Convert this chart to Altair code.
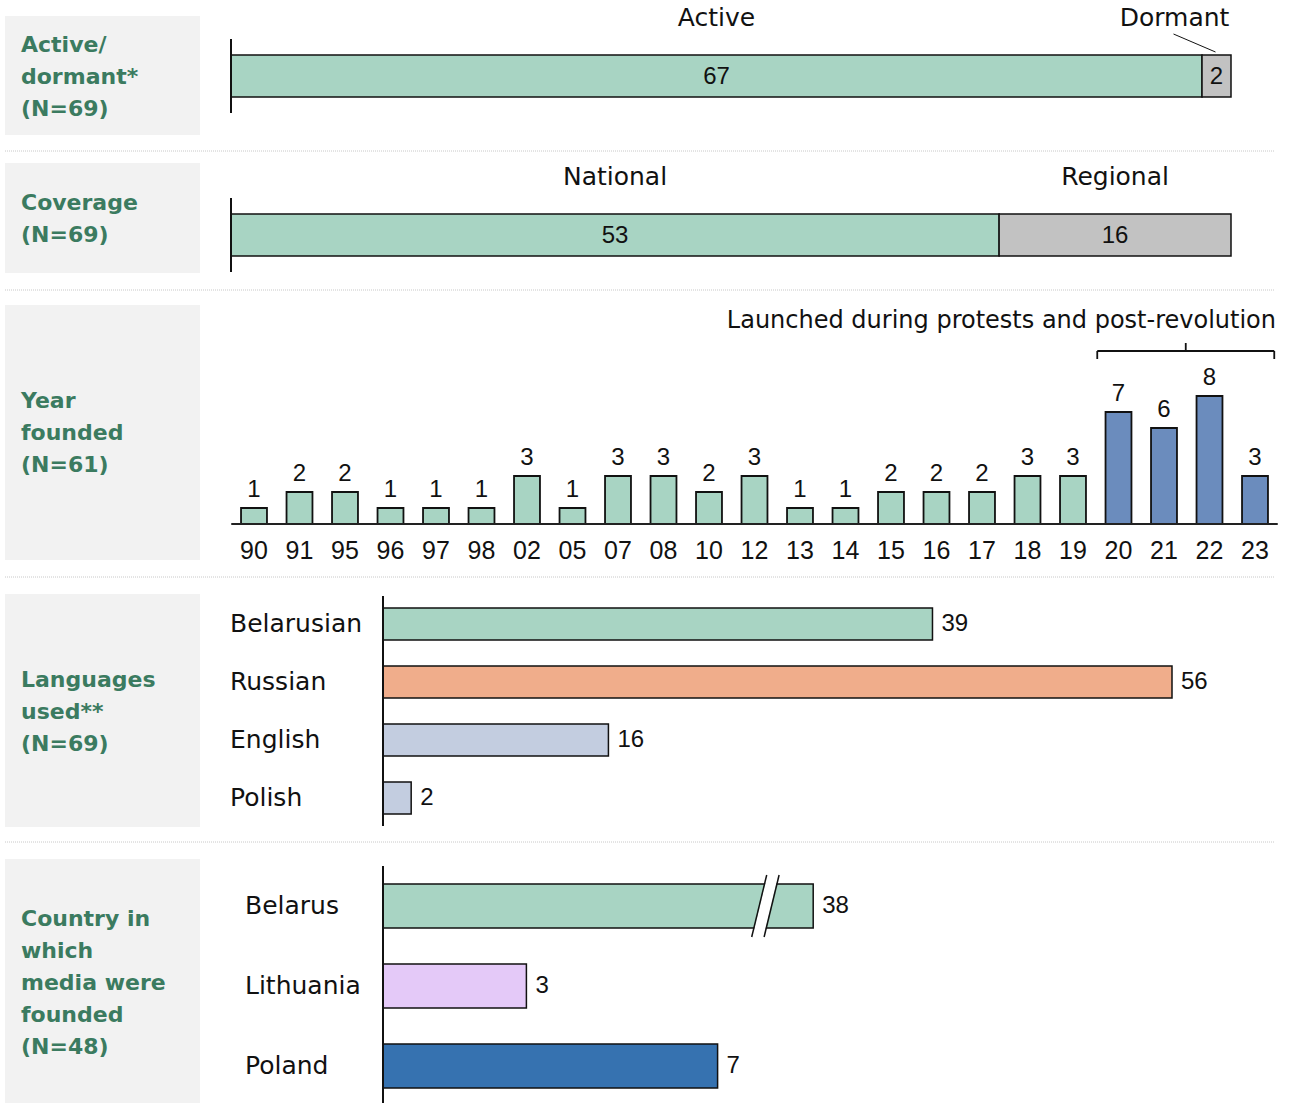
import altair as alt
import pandas as pd

# ---------------- data ----------------
status_labels = ["Active", "Dormant"]
status_counts = [67, 2]

coverage_labels = ["National", "Regional"]
coverage_counts = [53, 16]

year_labels = ["90", "91", "95", "96", "97", "98", "02", "05", "07", "08", "10", "12",
               "13", "14", "15", "16", "17", "18", "19", "20", "21", "22", "23"]
year_counts = [1, 2, 2, 1, 1, 1, 3, 1, 3, 3, 2, 3, 1, 1, 2, 2, 2, 3, 3, 7, 6, 8, 3]
year_period = ["before"] * 19 + ["after"] * 4

languages = ["Belarusian", "Russian", "English", "Polish"]
language_counts = [39, 56, 16, 2]

countries = ["Belarus", "Lithuania", "Poland"]
country_counts = [38, 3, 7]

group_titles = [
    ["Active/", "dormant*", "(N=69)"],
    ["Coverage", "(N=69)"],
    ["Year", "founded", "(N=61)"],
    ["Languages", "used**", "(N=69)"],
    ["Country in", "which", "media were", "founded", "(N=48)"],
]

# ---------------- style ----------------
W, H = 1290, 1103
WORD_FONT = "DejaVu Sans"
NUM_FONT = "Liberation Sans"
TITLE_GREEN = "#3b7b60"
PANEL_GREY = "#f2f2f2"
INK = "#111111"
GREEN = "#a8d4c3"
GREY = "#c2c2c2"
BLUE_YEAR = "#6b8cbd"
ORANGE = "#f0ad8b"
PALE_BLUE = "#c3cde0"
LAVENDER = "#e4c9f8"
POLAND_BLUE = "#3672b0"

one = pd.DataFrame({"k": [0]})
layers = []

# ---------------- panel backgrounds, titles, separators ----------------
panels = [(16, 135), (163, 273), (305, 560), (594, 827), (859, 1103)]
title_first_line = [45, 203, 401, 680, 919]
separators = [151, 290, 577, 842]

for (y0, y1), yc, lines in zip(panels, title_first_line, group_titles):
    layers.append(alt.Chart(one).mark_rect(color=PANEL_GREY).encode(
        x=alt.value(5), x2=alt.value(200), y=alt.value(y0), y2=alt.value(y1)))
    layers.append(alt.Chart(one).mark_text(
        align="left", baseline="middle", font=WORD_FONT, fontWeight="bold",
        fontSize=22, lineHeight=32, color=TITLE_GREEN).encode(
        x=alt.value(21), y=alt.value(yc), text=alt.value(lines)))

for ys in separators:
    layers.append(alt.Chart(one).mark_rule(color="#c8c8c8", strokeWidth=1, strokeDash=[1, 1]).encode(
        x=alt.value(5), x2=alt.value(1275), y=alt.value(ys)))


# ---------------- stacked single bars ----------------
def stacked_row(labels, counts, colors, bar_y0, bar_y1, cat_y, axis_y0, axis_y1, label_dx):
    df = pd.DataFrame({"cat": labels, "n": counts})
    df["end"] = df["n"].cumsum()
    df["start"] = df["end"] - df["n"]
    df["mid"] = (df["start"] + df["end"]) / 2
    xs = alt.Scale(domain=[0, int(df["n"].sum())], range=[231, 1231])
    col = alt.Color("cat:N", scale=alt.Scale(domain=labels, range=colors), legend=None)
    base = alt.Chart(df)
    out = [
        base.mark_bar(stroke=INK, strokeWidth=1.5).encode(
            x=alt.X("start:Q", scale=xs, axis=None), x2="end:Q",
            y=alt.value(bar_y0), y2=alt.value(bar_y1), color=col),
        base.mark_text(font=NUM_FONT, fontSize=24, color=INK, baseline="middle").encode(
            x=alt.X("mid:Q", scale=xs, axis=None), y=alt.value((bar_y0 + bar_y1) / 2 + 1),
            text="n:Q"),
        alt.Chart(one).mark_rule(color=INK, strokeWidth=2).encode(
            x=alt.XDatum(0, scale=xs, axis=None), y=alt.value(axis_y0), y2=alt.value(axis_y1)),
    ]
    for lab, dx in zip(labels, label_dx):
        out.append(base.transform_filter(alt.datum.cat == lab).mark_text(
            font=WORD_FONT, fontSize=25, color=INK, baseline="middle", dx=dx).encode(
            x=alt.X("mid:Q", scale=xs, axis=None), y=alt.value(cat_y), text="cat:N"))
    return out, xs, base


row1, xs1, base1 = stacked_row(status_labels, status_counts, [GREEN, GREY],
                               55, 97, 18, 39, 113, [0, -42])
layers += row1
# leader from the "Dormant" label down to its thin segment
layers.append(base1.transform_filter(alt.datum.cat == "Dormant").mark_rule(
    color=INK, strokeWidth=1, xOffset=-43, x2Offset=-1).encode(
    x=alt.X("mid:Q", scale=xs1, axis=None), x2="mid:Q",
    y=alt.value(34), y2=alt.value(52)))

row2, _, _ = stacked_row(coverage_labels, coverage_counts, [GREEN, GREY],
                         214, 256, 177, 198, 272, [0, 0])
layers += row2

# ---------------- year founded ----------------
yr = pd.DataFrame({"year": year_labels, "n": year_counts, "period": year_period})
yx0, yx1 = 231.25, 1277.75
ystep = (yx1 - yx0) / len(year_labels)
yr_x = alt.Scale(domain=year_labels, range=[yx0, yx1], paddingInner=0.43, paddingOuter=0.215)
yr_y = alt.Scale(domain=[0, 8], range=[524, 396])
yr_col = alt.Color("period:N", scale=alt.Scale(domain=["before", "after"], range=[GREEN, BLUE_YEAR]),
                   legend=None)
yb = alt.Chart(yr)
layers += [
    yb.mark_bar(stroke=INK, strokeWidth=1.8).encode(
        x=alt.X("year:N", scale=yr_x, axis=None, sort=None),
        y=alt.Y("n:Q", scale=yr_y, axis=None), color=yr_col),
    yb.mark_text(font=NUM_FONT, fontSize=24, color=INK, baseline="alphabetic", dy=-11).encode(
        x=alt.X("year:N", scale=yr_x, axis=None, sort=None),
        y=alt.Y("n:Q", scale=yr_y, axis=None), text="n:Q"),
    yb.mark_text(font=NUM_FONT, fontSize=25, color=INK, baseline="alphabetic").encode(
        x=alt.X("year:N", scale=yr_x, axis=None, sort=None), y=alt.value(559), text="year:N"),
    alt.Chart(one).mark_rule(color="#222222", strokeWidth=2).encode(
        x=alt.value(yx0), x2=alt.value(yx1), y=alt.YDatum(0, scale=yr_y, axis=None)),
]

# bracket over the protest / post-revolution years
bx0 = yx0 + ystep * 19 + 1.5
bx1 = yx0 + ystep * 23 - 3.5
bmid = (bx0 + bx1) / 2
for rule in [
    dict(x=alt.value(bx0), x2=alt.value(bx1), y=alt.value(351)),
    dict(x=alt.value(bx0), y=alt.value(351), y2=alt.value(359)),
    dict(x=alt.value(bx1), y=alt.value(351), y2=alt.value(359)),
    dict(x=alt.value(bmid), y=alt.value(343), y2=alt.value(351)),
]:
    layers.append(alt.Chart(one).mark_rule(color=INK, strokeWidth=1.8).encode(**rule))
layers.append(alt.Chart(one).mark_text(
    font=WORD_FONT, fontSize=24, color=INK, align="right", baseline="middle").encode(
    x=alt.value(1276), y=alt.value(321),
    text=alt.value("Launched during protests and post-revolution")))

# ---------------- languages ----------------
lg = pd.DataFrame({"lang": languages, "n": language_counts})
lg_y = alt.Scale(domain=languages, range=[595, 827], paddingInner=0.45, paddingOuter=0.225)
lg_x = alt.Scale(domain=[0, 56], range=[383, 1172])
lg_col = alt.Color("lang:N", scale=alt.Scale(domain=languages,
                                             range=[GREEN, ORANGE, PALE_BLUE, PALE_BLUE]), legend=None)
lb = alt.Chart(lg)
layers += [
    lb.mark_bar(stroke=INK, strokeWidth=1.5).encode(
        x=alt.X("n:Q", scale=lg_x, axis=None),
        y=alt.Y("lang:N", scale=lg_y, axis=None, sort=None), color=lg_col),
    lb.mark_text(font=NUM_FONT, fontSize=24, color=INK, align="left", baseline="middle", dx=9).encode(
        x=alt.X("n:Q", scale=lg_x, axis=None),
        y=alt.Y("lang:N", scale=lg_y, axis=None, sort=None), text="n:Q"),
    lb.mark_text(font=WORD_FONT, fontSize=25, color=INK, align="left", baseline="middle").encode(
        x=alt.value(230), y=alt.Y("lang:N", scale=lg_y, axis=None, sort=None), text="lang:N"),
    alt.Chart(one).mark_rule(color=INK, strokeWidth=2).encode(
        x=alt.XDatum(0, scale=lg_x, axis=None), y=alt.value(596), y2=alt.value(826)),
]

# ---------------- country founded (axis broken beyond 9) ----------------
ct = pd.DataFrame({"country": countries, "n": country_counts})
ct_y = alt.Scale(domain=countries, range=[866, 1106], paddingInner=0.45, paddingOuter=0.225)
cx0, cunit, cmax = 383, 47.8, 9
ct_x = alt.Scale(domain=[0, cmax], range=[cx0, cx0 + cunit * cmax], clamp=True)
ct_col = alt.Color("country:N", scale=alt.Scale(domain=countries,
                                                range=[GREEN, LAVENDER, POLAND_BLUE]), legend=None)
cb = alt.Chart(ct)
layers += [
    cb.mark_bar(stroke=INK, strokeWidth=1.5).encode(
        x=alt.X("n:Q", scale=ct_x, axis=None),
        y=alt.Y("country:N", scale=ct_y, axis=None, sort=None), color=ct_col),
    cb.mark_text(font=NUM_FONT, fontSize=24, color=INK, align="left", baseline="middle", dx=9).encode(
        x=alt.X("n:Q", scale=ct_x, axis=None),
        y=alt.Y("country:N", scale=ct_y, axis=None, sort=None), text="n:Q"),
    cb.mark_text(font=WORD_FONT, fontSize=25, color=INK, align="left", baseline="middle").encode(
        x=alt.value(245), y=alt.Y("country:N", scale=ct_y, axis=None, sort=None), text="country:N"),
    alt.Chart(one).mark_rule(color=INK, strokeWidth=2).encode(
        x=alt.XDatum(0, scale=ct_x, axis=None), y=alt.value(866), y2=alt.value(1103)),
]

# slanted break marks across the truncated bar
brk = cx0 + cunit * 8.0
gap, lean, top, bot = 6.2, 7.5, 875, 937
layers.append(alt.Chart(one).mark_rule(color="white", strokeWidth=11).encode(
    x=alt.value(brk + lean), x2=alt.value(brk - lean), y=alt.value(top), y2=alt.value(bot)))
for side in (-gap, gap):
    layers.append(alt.Chart(one).mark_rule(color=INK, strokeWidth=1.5).encode(
        x=alt.value(brk + side + lean), x2=alt.value(brk + side - lean),
        y=alt.value(top), y2=alt.value(bot)))

chart = alt.layer(*layers).resolve_scale(
    x="independent", y="independent", color="independent"
).properties(
    width=W, height=H, padding=0, background="white",
    autosize=alt.AutoSizeParams(type="none"),
).configure_view(stroke=None)

chart.save("out.html", embed_options={"renderer": "svg", "actions": False})
